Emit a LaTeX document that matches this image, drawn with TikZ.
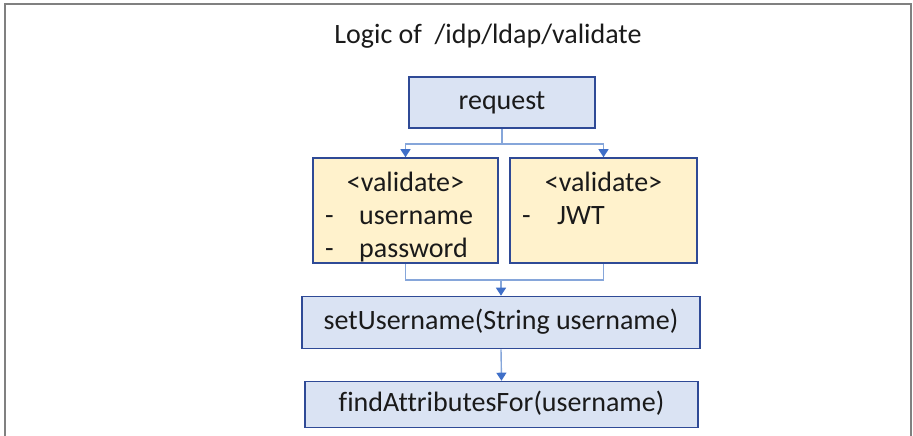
\documentclass[tikz,border=0pt]{standalone}
\usepackage{fontspec}
\setmainfont{Carlito}[Ligatures=NoCommon]
\usetikzlibrary{arrows.meta}

\definecolor{framegray}{HTML}{808080}
\definecolor{boxedge}{HTML}{2F4A96}
\definecolor{boxblue}{HTML}{DAE3F3}
\definecolor{boxyellow}{HTML}{FFF2CC}
\definecolor{linkblue}{HTML}{86A6DA}
\definecolor{tipblue}{HTML}{3F6FC8}
\definecolor{ink}{HTML}{1A1A1A}

\tikzset{
  every node/.style={font=\fontsize{28}{34}\selectfont, text=ink},
  stepbox/.style={draw=boxedge, line width=1.6pt, inner sep=0pt},
  bluebox/.style={stepbox, fill=boxblue},
  yellowbox/.style={stepbox, fill=boxyellow},
  boxlabel/.style={inner sep=0pt, text height=19pt, text depth=6pt},
  linetext/.style={inner sep=0pt, anchor=base west},
  link/.style={draw=linkblue, line width=1.4pt},
  flow/.style={link, -{Triangle[width=10pt,length=8pt,color=tipblue]}},
}

\begin{document}
\begin{tikzpicture}[x=1pt, y=-1pt]
  \useasboundingbox (0,0) rectangle (913,436);

  % open frame around the figure
  \draw[framegray, line width=2.4pt] (5,436) -- (5,4) -- (911,4) -- (911,436);

  % heading
  \node[inner sep=0pt, anchor=base] (title) at (488,44) {Logic of \ /idp/ldap/validate};

  % boxes
  \node[bluebox, minimum width=186pt, minimum height=51pt] (request) at (502,102.5) {};
  \node[boxlabel] (requestText) at (request.center) {request};

  \node[yellowbox, minimum width=185pt, minimum height=105pt] (vL) at (405.5,210.5) {};
  \node[yellowbox, minimum width=187pt, minimum height=105pt] (vR) at (603.5,210.5) {};

  \node[bluebox, minimum width=398pt, minimum height=52pt] (setU) at (501,322.5) {};
  \node[boxlabel] (setUText) at (setU.center) {setUsername(String username)};

  \node[bluebox, minimum width=393pt, minimum height=46pt] (find) at (501.5,404.5) {};
  \node[boxlabel] (findText) at (find.center) {findAttributesFor(username)};

  % texts of the two validation boxes
  \node[inner sep=0pt, anchor=base] (vLHead) at (405.5,191) {<validate>};
  \node[linetext] (vLDash1) at (325,224) {-};
  \node[linetext] (vLItem1) at (359,224) {username};
  \node[linetext] (vLDash2) at (325,257) {-};
  \node[linetext] (vLItem2) at (359,257) {password};

  \node[inner sep=0pt, anchor=base] (vRHead) at (603.5,191) {<validate>};
  \node[linetext] (vRDash1) at (522,224) {-};
  \node[linetext] (vRItem1) at (557,224) {JWT};

  % connectors
  \coordinate (split) at (502,144);
  \draw[link] (request.south) -- (split);
  \draw[flow] (split) -| (vL.north);
  \draw[flow] (split) -| (vR.north);

  \coordinate (join) at (setU.north |- 0,280);
  \draw[link] (vL.south) |- (join) -| (vR.south);
  \draw[flow] (join) -- (setU.north);

  \draw[flow] (setU.south) -- (find.north);
\end{tikzpicture}
\end{document}
